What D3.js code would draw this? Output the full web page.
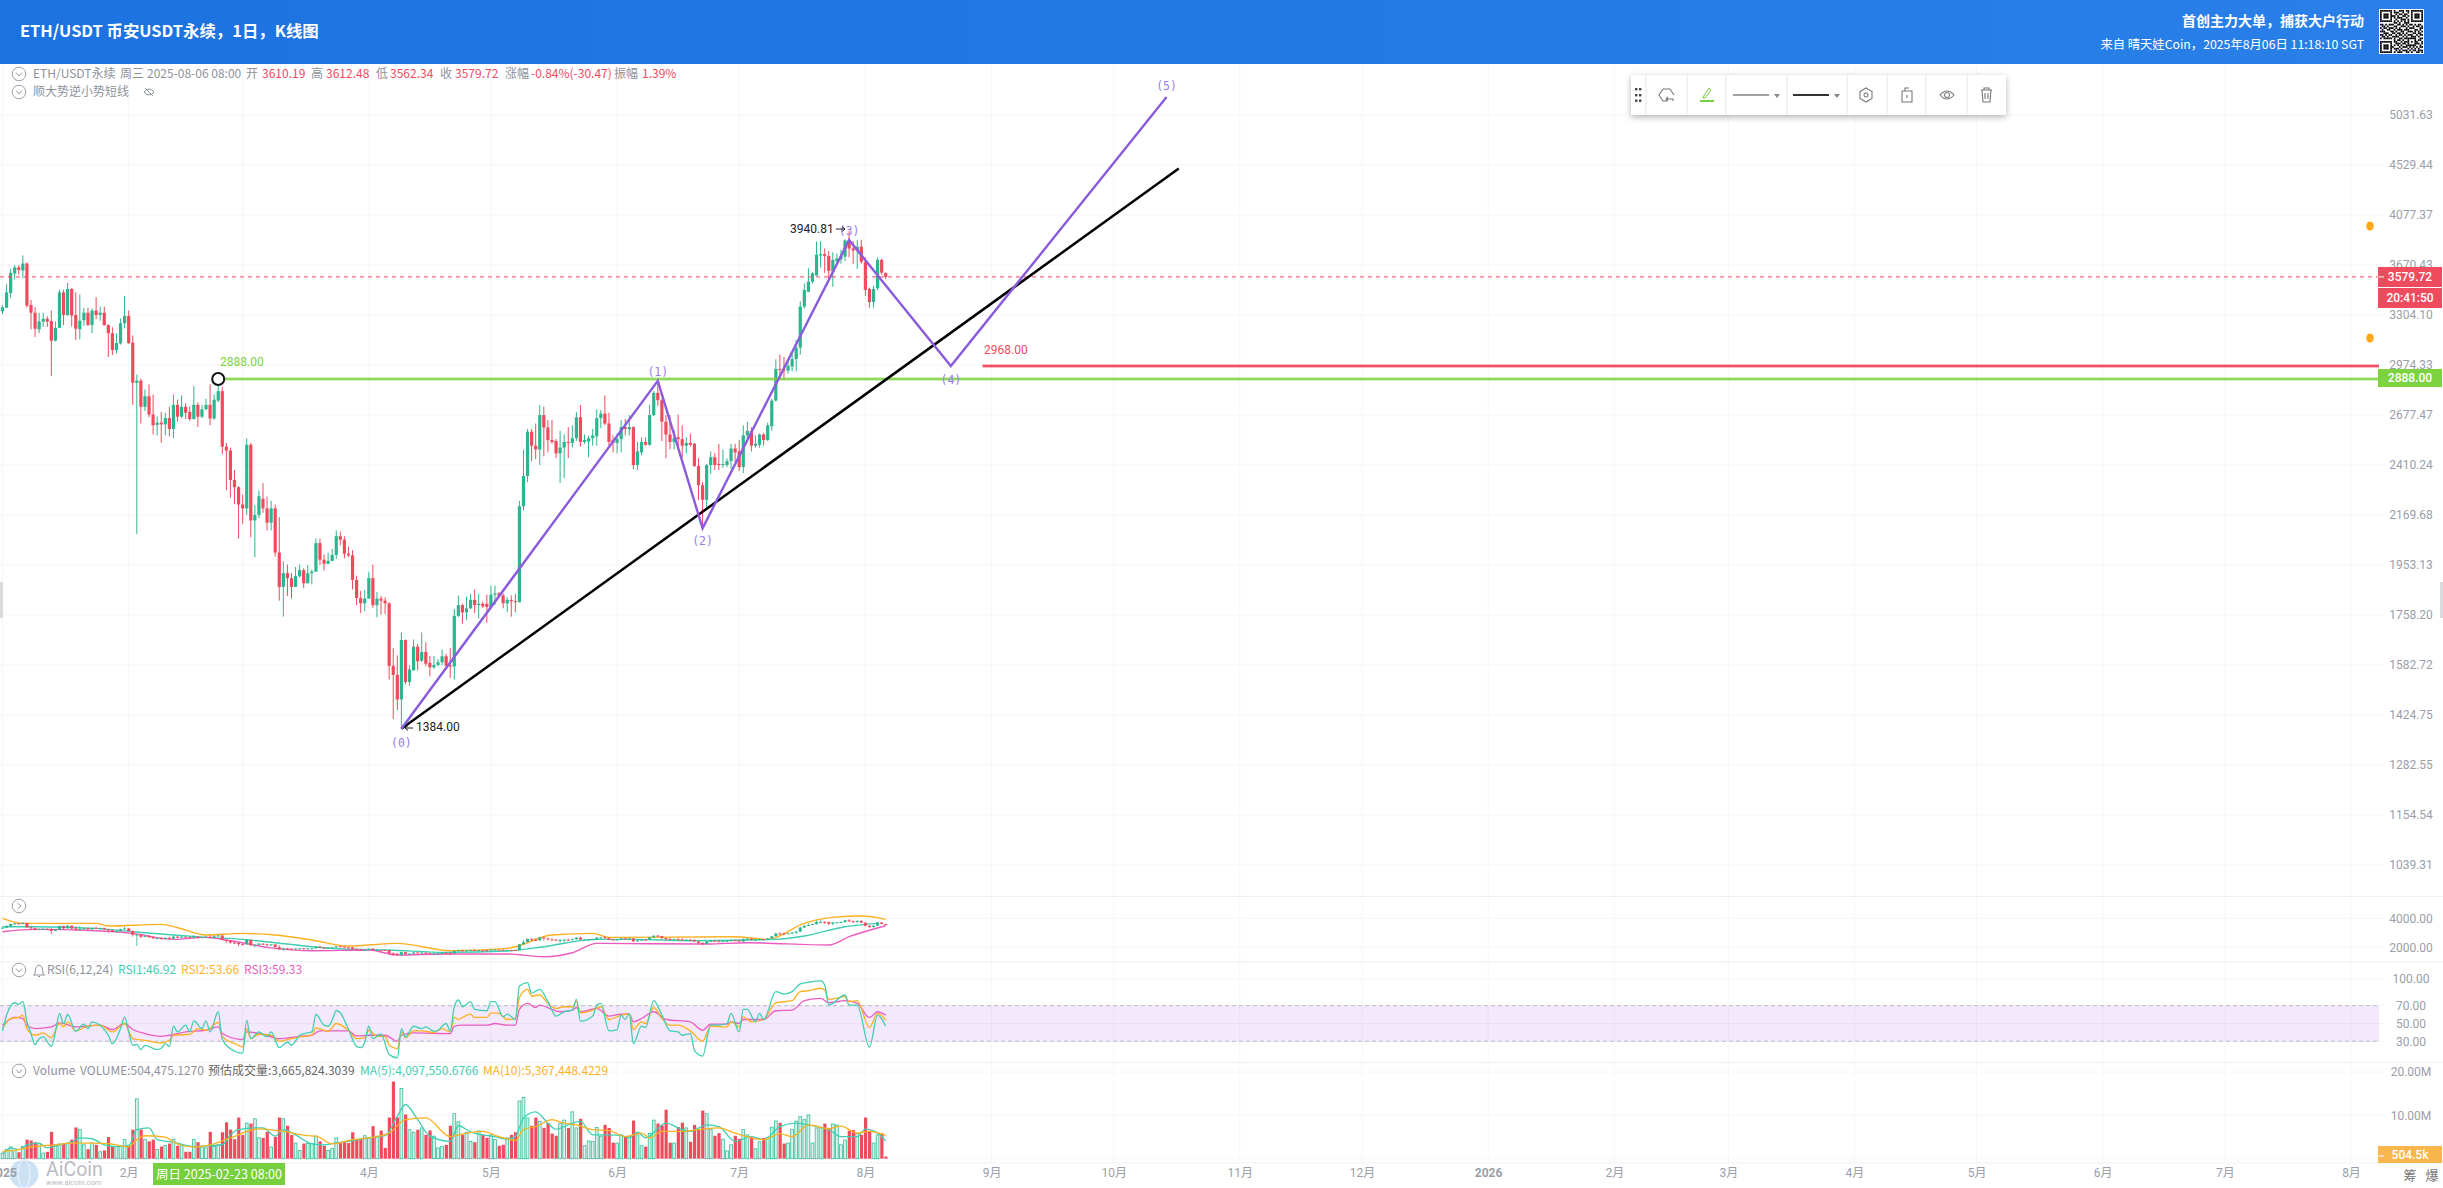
<!DOCTYPE html>
<html>
<head>
<meta charset="utf-8">
<title>ETH/USDT K线图</title>
<script src="https://cdn.jsdelivr.net/npm/d3@7/dist/d3.min.js"></script>
<style>
  html, body { margin: 0; padding: 0; background: #fff; overflow: hidden; }
  svg { display: block; }
  text { font-family: Roboto, "Noto Sans CJK SC", sans-serif; }
  .cn { font-family: "Noto Sans CJK SC", Roboto, sans-serif; }
</style>
</head>
<body>
<div id="chart"></div>
<script>
// K线数据, 从图上读出来的, 第 0 天 = 2025-01-01
const opens = [3330,3355,3460,3605,3652,3628,3682,3375,3320,3205,
  3258,3278,3262,3130,3216,3465,3304,3490,3304,3207,
  3268,3320,3235,3335,3305,3320,3235,3180,3070,3112,
  3247,3298,3118,2865,2878,2724,2785,2680,2622,2635,
  2625,2660,2600,2735,2668,2724,2695,2655,2735,2668,
  2710,2735,2658,2760,2815,2505,2485,2335,2300,2218,
  2200,2515,2145,2170,2245,2200,2135,2200,2005,1865,
  1920,1900,1865,1908,1932,1880,1920,1926,2045,1975,
  1958,1970,1995,2075,2060,2000,1993,1893,1822,1802,
  1820,1900,1795,1820,1812,1802,1580,1550,1472,1668,
  1527,1565,1645,1597,1627,1590,1575,1583,1592,1612,
  1582,1578,1755,1795,1768,1783,1815,1795,1800,1800,
  1788,1835,1840,1832,1802,1815,1810,1806,2210,2355,
  2585,2510,2490,2677,2608,2540,2535,2470,2500,2530,
  2525,2550,2665,2530,2532,2550,2560,2660,2685,2630,
  2540,2525,2545,2610,2598,2610,2410,2475,2530,2515,
  2677,2805,2762,2640,2570,2530,2555,2545,2510,2525,
  2520,2405,2310,2240,2410,2450,2415,2410,2410,2430,
  2495,2480,2400,2565,2590,2510,2515,2570,2540,2615,
  2760,2950,2945,2940,2965,3012,3085,3363,3470,3544,
  3590,3745,3755,3740,3620,3700,3715,3735,3865,3800,
  3785,3815,3695,3490,3395,3495,3710,3610.19];
const closes = [3358,3465,3610,3652,3632,3682,3370,3320,3210,3260,
  3278,3258,3130,3216,3465,3304,3490,3300,3210,3265,
  3320,3235,3335,3304,3320,3235,3180,3070,3115,3247,
  3298,3115,2865,2878,2724,2785,2680,2620,2635,2625,
  2660,2600,2735,2668,2724,2690,2655,2735,2668,2710,
  2735,2658,2765,2815,2505,2485,2335,2300,2218,2200,
  2515,2145,2170,2257,2200,2135,2200,2005,1865,1920,
  1900,1865,1908,1932,1880,1920,1926,2045,1975,1958,
  1970,1995,2075,2060,2000,1993,1893,1822,1802,1820,
  1900,1795,1820,1812,1802,1580,1550,1472,1668,1527,
  1568,1645,1595,1627,1587,1575,1583,1592,1612,1580,
  1578,1755,1795,1768,1783,1815,1795,1800,1790,1788,
  1835,1840,1830,1802,1815,1810,1806,2210,2355,2585,
  2510,2490,2677,2608,2540,2530,2470,2500,2530,2525,
  2550,2665,2530,2540,2550,2565,2660,2685,2630,2530,
  2525,2545,2610,2600,2610,2410,2480,2530,2515,2677,
  2805,2762,2640,2570,2530,2550,2545,2510,2525,2515,
  2405,2310,2240,2410,2450,2410,2410,2415,2430,2495,
  2475,2400,2565,2590,2510,2520,2570,2540,2620,2760,
  2950,2945,2940,2970,3012,3085,3363,3483,3544,3607,
  3750,3755,3740,3625,3710,3720,3740,3865,3800,3785,
  3815,3695,3483,3395,3490,3710,3612,3579.72];
const highs = [3375,3525,3640,3670,3670,3745,3690,3410,3360,3320,
  3320,3295,3335,3260,3485,3485,3535,3495,3465,3450,
  3355,3355,3350,3430,3363,3363,3240,3220,3180,3280,
  3440,3335,3165,2915,2890,2825,2855,2795,2670,2695,
  2690,2725,2795,2765,2790,2745,2725,2845,2750,2735,
  2770,2855,2795,2855,2840,2525,2500,2385,2305,2265,
  2550,2525,2215,2285,2320,2255,2235,2218,2160,1968,
  1955,1920,1945,1955,1940,1953,1935,2065,2065,1997,
  2005,2020,2100,2095,2075,2030,2015,1910,1850,1853,
  1925,1955,1845,1830,1825,1806,1640,1615,1695,1670,
  1582,1670,1655,1695,1660,1613,1613,1602,1635,1620,
  1640,1780,1832,1800,1827,1838,1855,1838,1808,1835,
  1870,1870,1845,1840,1825,1832,1838,2235,2490,2600,
  2600,2630,2735,2725,2650,2650,2545,2590,2570,2610,
  2620,2695,2735,2570,2565,2600,2710,2705,2790,2690,
  2565,2575,2650,2655,2677,2615,2530,2555,2555,2735,
  2815,2860,2770,2677,2677,2595,2680,2620,2555,2575,
  2525,2445,2325,2415,2480,2470,2520,2490,2445,2520,
  2520,2540,2620,2640,2610,2565,2575,2578,2635,2770,
  3010,3040,3025,3000,3060,3135,3400,3530,3645,3615,
  3855,3860,3800,3780,3770,3760,3790,3875,3941,3860,
  3870,3870,3730,3500,3515,3730,3720,3612.48];
const lows = [3310,3355,3425,3560,3595,3570,3355,3205,3155,3180,
  3222,3222,2905,3125,3216,3235,3298,3225,3135,3140,
  3230,3230,3180,3275,3265,3230,3025,3037,3048,3105,
  3212,3108,2735,2085,2630,2700,2665,2570,2565,2525,
  2565,2560,2550,2640,2660,2655,2645,2652,2610,2660,
  2705,2620,2650,2750,2465,2285,2250,2220,2065,2130,
  2170,2070,1985,2155,2180,2100,2100,1988,1812,1752,
  1830,1820,1865,1902,1860,1878,1875,1925,1953,1930,
  1958,1970,1978,2035,1980,1985,1855,1795,1765,1772,
  1820,1785,1750,1760,1762,1535,1413,1440,1384,1520,
  1515,1565,1565,1592,1578,1545,1570,1578,1582,1575,
  1540,1535,1750,1726,1740,1780,1765,1745,1785,1730,
  1783,1795,1825,1783,1768,1752,1768,1806,2190,2325,
  2430,2440,2410,2455,2475,2520,2445,2320,2345,2445,
  2500,2535,2505,2520,2450,2510,2510,2605,2620,2510,
  2475,2470,2475,2565,2565,2390,2385,2460,2510,2510,
  2670,2730,2535,2445,2490,2490,2490,2450,2470,2505,
  2400,2240,2120,2205,2365,2385,2385,2395,2400,2390,
  2425,2380,2370,2545,2480,2500,2500,2510,2535,2590,
  2755,2885,2880,2920,2935,2935,3040,3350,3465,3530,
  3590,3650,3610,3545,3505,3680,3680,3700,3730,3680,
  3640,3680,3440,3355,3355,3480,3595,3562.34];

// 成交量 (单位 M)
const volumes = [1.3,2.1,2.7,1.9,1.5,2.8,4.4,4.2,3.8,3.5,
  1.3,1.6,6.2,3.2,3.4,3.5,3.6,4.4,7.2,6.7,
  3.2,2.2,3.6,3.2,1.6,1.9,5,2.8,2.8,2.8,
  4.4,3.2,6.7,13.8,6.7,4.4,4,4.4,2.1,2.8,
  3,3.5,4.5,3,3,1.6,1.6,4.4,3.8,2.7,
  2.5,6.2,2.8,3.2,6.1,8.4,6.7,4.5,9.5,5.5,
  8.2,8.1,9.2,4.8,4.8,6.2,2.7,5,9.5,9.2,
  7.6,5.5,3.6,1.9,3.5,3.5,3.5,5.2,4,3,
  1.9,2.4,4.8,3.6,3.9,3.6,6.1,4.5,4.4,5.3,
  4.8,7.5,5.2,6.5,2.5,9.5,17.8,9.5,16.2,10.2,
  6.7,6.1,6.7,7.1,5.5,6.5,5.2,2.5,2.8,3.2,
  7.6,10.4,8.5,5.5,6.1,4,3.8,6.4,5.5,4.8,
  5.5,4.4,3,3.2,4.8,5.5,6.1,13.3,14.1,9.4,
  7.6,9.5,8.6,7.1,8.2,5.8,5.3,8.2,8.9,7.1,
  10.8,7.1,9.2,3,4.1,4,7.2,5.2,7.8,7.1,
  3.7,3.6,5.5,5.2,5.2,8.8,5.5,3,2.8,5.8,
  8.9,8.1,7.7,11.3,3.7,3.6,7.3,8.3,7.1,3.9,
  7.8,6.7,11.1,10.4,6.8,5.3,5.9,4.5,1.8,3.2,
  5.3,4.6,6.7,5.5,5,2.3,3.9,4.8,4.8,7.3,
  8.7,8.3,3.5,3.6,6.8,8.7,9.7,9,10.1,3.6,
  7.1,7.1,8.1,7.1,8,7.8,3.2,4.3,6.4,6.6,
  5.9,5.5,9.5,6.3,3.6,5.5,5.8,0.5];
const volMa5 = [[0,1],[2,2.5],[4,2.1],[6,3.2],[9,3.6],[11,2.5],[14,3.2],[17,3.8],[19,4.8],[22,4.6],[25,3.2],[28,2.8],[31,3],[33,6.7],[36,7.1],[38,4.4],[42,3.8],[47,2.8],[51,3],[54,3.2],[56,5.5],[58,6.7],[62,7.1],[64,7.1],[67,5.2],[69,6.7],[72,5.5],[76,3.4],[79,3.2],[81,3.5],[85,4],[90,4.8],[94,5.3],[97,9.8],[99,12.5],[102,9],[105,5.2],[110,4],[112,7.6],[115,6.2],[118,5.5],[121,5.1],[124,4.5],[126,5.1],[128,9.4],[131,10.8],[134,8.2],[136,6.8],[139,7.8],[142,8.6],[145,5.5],[149,5.5],[152,5.4],[154,4.8],[156,6.1],[158,4.8],[163,8.2],[167,6.7],[169,6.3],[173,7.8],[176,7.4],[180,4],[184,5.1],[187,4.4],[191,7.4],[195,8.2],[198,7.8],[203,6.7],[206,5.1],[210,5.1],[212,6.8],[215,5.9],[217,4.1]];
const volMa10 = [[0,1.7],[4,2.1],[7,2.7],[13,3.2],[17,3.6],[22,3.6],[26,3.5],[31,2.8],[33,4.4],[35,5.3],[40,5],[42,3.8],[47,2.7],[51,3.2],[56,4.8],[63,6.9],[69,6.3],[75,5.3],[77,5.2],[81,3.4],[86,4.4],[90,4.8],[95,5.9],[99,9],[104,9.4],[110,5.1],[113,5.7],[118,6.3],[122,5.1],[126,4.2],[128,6.7],[131,7.4],[135,9],[138,8.2],[141,7.8],[145,6.7],[149,6.5],[153,5.1],[157,5.9],[159,4.8],[162,6.3],[167,6.3],[171,6.7],[176,7.1],[180,5.9],[187,4.4],[191,5.8],[194,5.1],[198,7.8],[203,6.9],[206,7.5],[210,5.9],[213,6.3],[217,5.4]];

// RSI, [第几天, 数值]
const rsi1 = [[0,41.7],[1,59.4],[3,73.3],[4,71.4],[5,74.8],[6,51.9],[7,38.7],[8,26.2],[9,33],[10,34.9],[12,24.3],[13,40.5],[14,61.3],[15,50],[16,60.1],[18,41.3],[20,49.2],[21,44.3],[22,51.9],[24,48.1],[26,36.8],[27,27.3],[29,44.3],[30,57.5],[31,40.5],[32,25.5],[33,26.6],[34,20.6],[35,25.5],[38,20.6],[39,22.1],[40,27.3],[41,24.3],[42,46.9],[43,40.5],[45,48.1],[46,40.5],[47,53],[49,44.3],[50,53],[51,40.5],[53,63.2],[54,31.9],[56,21.7],[59,16.8],[60,53.7],[61,33],[63,40.5],[65,34.9],[66,40.5],[68,22.8],[70,29.2],[71,25.5],[73,36.8],[75,39.4],[76,40.5],[77,60.1],[79,48.1],[80,46.9],[81,53.7],[82,64.3],[83,62],[85,43.2],[87,24.3],[88,22.8],[89,29.2],[90,46.9],[91,33],[93,37.9],[95,15.3],[97,11.5],[98,44.3],[99,34.9],[101,46.9],[103,44.3],[104,46.2],[106,41.3],[107,42.4],[109,50],[110,41.7],
  [111,68.8],[112,76.4],[113,68.8],[115,74.5],[116,65.8],[119,64.3],[120,74.5],[121,74.5],[123,57.5],[124,60.5],[126,54.5],[127,92.2],[129,96],[130,83.9],[132,88.4],[134,74.5],[136,58.3],[138,63.2],[140,65],[141,77.1],[142,52.6],[145,58.3],[146,70.7],[147,72.6],[149,41.7],[151,43.2],[152,59.4],[153,54.5],[154,61.3],[155,27.3],[157,47],[158,45.4],[160,75.6],[162,59.4],[164,41.7],[166,40.5],[167,36.8],[169,38.7],[170,19.8],[172,13.4],[174,48.1],[176,48.1],[178,50],[179,61.3],[181,40.5],[182,65.8],[183,65.8],[185,51.9],[186,61.3],[187,54.5],[190,85.8],[192,83.1],[194,85.8],[196,94.5],[198,96.3],[201,97.8],[202,93.3],[203,70.7],[207,82],[208,70.7],[210,70.7],[213,23.6],[215,59.4],[217,46.92]];
const rsi2 = [[0,44.3],[2,55.6],[4,56.8],[5,59.4],[6,44.3],[8,36.8],[10,39.4],[12,34.1],[14,50],[15,46.2],[16,51.9],[18,41.7],[21,47],[24,48.1],[27,40.5],[30,50],[32,33],[35,31.1],[39,28.1],[41,31.1],[42,36.8],[46,37.9],[48,44.3],[50,42.4],[53,51.1],[54,35.6],[58,25.5],[59,23.6],[60,44.3],[61,33],[63,37.9],[66,36.8],[68,30],[70,31.9],[73,34.9],[76,36.8],[77,45],[80,41.3],[82,50],[85,42.4],[87,33],[89,34.1],[90,42.4],[92,35.6],[94,35.6],[95,25.5],[97,21.7],[98,40.5],[99,34.1],[101,41.7],[103,41.7],[106,39.8],[108,44.3],[110,40.5],
  [111,56.8],[112,54.5],[113,56.8],[115,60.5],[116,56.8],[119,56.8],[120,62],[122,61.3],[124,54.5],[126,55.6],[127,79.4],[129,88.4],[130,80.9],[132,82],[134,72.6],[136,66.9],[138,68.8],[140,68.8],[141,74.5],[142,62],[145,65],[147,68.8],[149,54.5],[152,59.4],[154,60.5],[155,43.2],[157,51.9],[158,50],[160,68],[162,55.6],[164,48.1],[166,48.1],[169,41.7],[172,30],[174,46.9],[178,46.2],[179,51.9],[181,46.2],[182,57.5],[184,51.9],[187,54.5],[190,73.3],[194,75.6],[196,85.8],[198,86.9],[201,89.6],[202,87.7],[203,77.1],[207,80.1],[208,74.5],[210,75.6],[213,45.4],[215,61.3],[217,53.66]];
const rsi3 = [[0,48],[3,56.8],[5,55.6],[6,48.1],[8,44.3],[12,46.2],[14,50.7],[18,46.2],[24,48.1],[27,43.2],[30,50],[32,43.2],[35,38.7],[39,35.6],[41,36.8],[45,40.5],[50,42.4],[53,46.2],[54,38.7],[59,31.9],[60,40.5],[64,37.9],[68,33],[73,35.6],[76,36.8],[78,41.7],[82,41.7],[85,41.7],[87,36],[90,36.8],[94,36.8],[97,30],[98,36.8],[101,39.4],[110,38.7],
  [111,46.9],[113,48.1],[119,48.1],[121,50],[124,48.1],[126,48.1],[127,65.8],[129,72.6],[131,68],[132,70.7],[135,65.8],[137,63.2],[140,65],[141,68],[142,63.2],[146,66.9],[149,58.3],[152,60.5],[154,60.5],[155,51.9],[157,55.6],[160,63.2],[163,54.5],[169,51.9],[172,42.4],[174,49.2],[178,49.2],[179,51.9],[181,50],[182,54.5],[187,54.5],[190,64.3],[194,65],[197,75.6],[201,78.2],[203,73.3],[207,75.6],[210,72.6],[213,56.8],[215,63.2],[217,59.33]];

// 小窗口里的通道线
const bandUpper = [[0,3996],[5,3651],[23,3651],[26,3467],[39,3582],[43,3352],[50,2846],[59,2961],[67,2846],[76,2501],[85,2087],[97,2271],[110,1765],[124,1926],[126,2041],[135,2846],[145,2961],[149,2685],[180,2731],[188,2547],[197,3651],[204,4065],[211,4157],[217,3927]];
const bandMiddle = [[0,3421],[8,3421],[23,3306],[32,3076],[42,2846],[50,2685],[59,2547],[67,2317],[76,2041],[84,1880],[95,1811],[109,1650],[124,1742],[133,2041],[146,2547],[155,2547],[169,2455],[183,2501],[190,2547],[197,2777],[207,3421],[215,3651]];
const bandLower = [[0,3076],[8,3237],[23,3145],[32,2961],[42,2547],[50,2685],[56,2455],[67,1926],[76,1765],[90,1811],[97,1466],[109,1535],[124,1535],[133,1351],[140,1627],[146,2271],[173,2225],[183,2317],[203,2156],[208,2731],[217,3490]];

// 波浪和趋势线
const waveDays = [98,161,172,208,233,286];
const wavePrices = [1384,2877,2110,3868,2968,5226];
const waveLabels = ["(0)","(1)","(2)","(3)","(4)","(5)"];
const trendDays = [98,289];
const trendPrices = [1384,4496];

const priceTicks = [5031.63,4529.44,4077.37,3670.43,3304.10,2974.33,2677.47,2410.24,2169.68,1953.13,1758.20,1582.72,1424.75,1282.55,1154.54,1039.31];
const bandTicks = [4000,2000];
const rsiTicks = [100,70,50,30];
const volTicks = [20,10];
const monthDays = [0,31,59,90,120,151,181,212,243,273,304,334,365,396,424,455,485,516,546,577];
const monthLabels = ["2025","2月","","4月","5月","6月","7月","8月","9月","10月","11月","12月","2026","2月","3月","4月","5月","6月","7月","8月"];

const lastPrice = 3579.72, greenLevel = 2888, redLevel = 2968;
const greenStartDay = 53, redStartDay = 240.8;

const width = 2443, height = 1188;
const plotRight = 2379;
const RED = "#f04a5d", GREEN = "#2db58f", TEAL = "#3fcfb2", ORANGE = "#ffb01f", PINK = "#ec5cc0";
const LIME = "#7cd33f", PURPLE = "#8a5bdc", GREY = "#9a9ea8", GRID = "#f5f6f8", LINEC = "#eff0f3";

const svg = d3.select("#chart").append("svg").attr("width", width).attr("height", height);

const x = d3.scaleLinear().domain([0, 577]).range([2.5, 2351]);
const y = d3.scaleLog().domain([5031.63, 1039.31]).range([115, 865]);
const yBand = d3.scaleLinear().domain([4000, 2000]).range([918.3, 947.3]);
const yRsi = d3.scaleLinear().domain([100, 30]).range([979, 1041.3]);
const yVol = d3.scaleLinear().domain([20, 0]).range([1072, 1158.7]);

const candles = opens.map((o, i) => ({ i, o, c: closes[i], h: highs[i], l: lows[i], v: volumes[i], up: closes[i] >= o }));

// 背景网格
const gridG = svg.append("g");
gridG.selectAll("line.v").data(monthDays).enter().append("line")
  .attr("x1", d => x(d)).attr("x2", d => x(d)).attr("y1", 64).attr("y2", 1163)
  .attr("stroke", GRID);
const hLines = [...priceTicks.map(d => y(d)), ...bandTicks.map(d => yBand(d)), ...rsiTicks.map(d => yRsi(d)), ...volTicks.map(d => yVol(d)), yVol(0)];
gridG.selectAll("line.h").data(hLines).enter().append("line")
  .attr("x1", 0).attr("x2", 2385).attr("y1", d => d).attr("y2", d => d)
  .attr("stroke", GRID);
gridG.selectAll("line.sep").data([896.5, 961.7, 1062.7, 1163]).enter().append("line")
  .attr("x1", 0).attr("x2", width).attr("y1", d => d).attr("y2", d => d)
  .attr("stroke", LINEC);

// 主图K线
function drawCandles(g, yScale, bodyW, wickW) {
  g.selectAll("line").data(candles).enter().append("line")
    .attr("x1", d => x(d.i)).attr("x2", d => x(d.i))
    .attr("y1", d => yScale(d.h)).attr("y2", d => yScale(d.l))
    .attr("stroke", d => d.up ? GREEN : RED).attr("stroke-width", wickW);
  g.selectAll("rect").data(candles).enter().append("rect")
    .attr("x", d => x(d.i) - bodyW / 2).attr("width", bodyW)
    .attr("y", d => Math.min(yScale(d.o), yScale(d.c)))
    .attr("height", d => Math.max(1, Math.abs(yScale(d.o) - yScale(d.c))))
    .attr("fill", d => d.up ? GREEN : RED);
}
drawCandles(svg.append("g"), y, 3.2, 1);

// 现价虚线
svg.append("line").attr("x1", 0).attr("x2", plotRight).attr("y1", y(lastPrice)).attr("y2", y(lastPrice))
  .attr("stroke", RED).attr("stroke-dasharray", "4 4");

// 水平线
function level(price, startDay, color) {
  [[3.4, 0.45], [1.6, 1]].forEach(([w, op]) => {
    svg.append("line").attr("x1", x(startDay)).attr("x2", plotRight)
      .attr("y1", y(price)).attr("y2", y(price))
      .attr("stroke", color).attr("stroke-width", w).attr("stroke-opacity", op);
  });
}
level(greenLevel, greenStartDay, LIME);
level(redLevel, redStartDay, "#f0364c");

svg.append("text").attr("x", 220).attr("y", 366).attr("font-size", 12).attr("fill", LIME).text("2888.00");
svg.append("text").attr("x", 984).attr("y", 354).attr("font-size", 12).attr("fill", RED).text("2968.00");
svg.append("circle").attr("cx", x(greenStartDay)).attr("cy", y(greenLevel)).attr("r", 6)
  .attr("fill", "#fff").attr("stroke", "#111").attr("stroke-width", 2);

// 趋势线和波浪
const toPath = d3.line().x(d => x(d[0])).y(d => y(d[1]));
svg.append("path").attr("d", toPath(d3.zip(trendDays, trendPrices)))
  .attr("fill", "none").attr("stroke", "#000").attr("stroke-width", 2.5);
svg.append("path").attr("d", toPath(d3.zip(waveDays, wavePrices)))
  .attr("fill", "none").attr("stroke", PURPLE).attr("stroke-width", 2.4);

const waveDy = [14, -9, 13, -9, 14, -11];
svg.selectAll("text.wave").data(waveLabels).enter().append("text")
  .attr("x", (d, i) => x(waveDays[i])).attr("y", (d, i) => y(wavePrices[i]) + waveDy[i] + 4)
  .attr("text-anchor", "middle").attr("font-size", 11.5).attr("fill", "#9a7ee6")
  .style("font-family", "'DejaVu Sans Mono', monospace").text(d => d);

// 最高最低点标注, 小箭头单独画
svg.append("text").attr("x", 790).attr("y", 233).attr("font-size", 12).attr("fill", "#222").text("3940.81");
svg.append("path").attr("d", "M836,229 L845,229 M842,226.5 L845,229 L842,231.5").attr("fill", "none").attr("stroke", "#222");
svg.append("text").attr("x", 416).attr("y", 731).attr("font-size", 12).attr("fill", "#222").text("1384.00");
svg.append("path").attr("d", "M413,728 L405,728 M408,725.5 L405,728 L408,730.5").attr("fill", "none").attr("stroke", "#222");

// 通道小窗口
const bandG = svg.append("g");
const pairLine = yScale => d3.line().x(d => x(d[0])).y(d => yScale(d[1])).curve(d3.curveMonotoneX);
[[bandUpper, ORANGE], [bandMiddle, TEAL], [bandLower, PINK]].forEach(([data, color]) => {
  bandG.append("path").attr("d", pairLine(yBand)(data)).attr("fill", "none").attr("stroke", color).attr("stroke-width", 1.4);
});
drawCandles(bandG.append("g"), yBand, 3, 0.8);

// RSI
svg.append("rect").attr("x", 0).attr("width", plotRight).attr("y", yRsi(70)).attr("height", yRsi(30) - yRsi(70))
  .attr("fill", "#a64dea").attr("fill-opacity", 0.13);
[70, 30].forEach(v => {
  svg.append("line").attr("x1", 0).attr("x2", plotRight).attr("y1", yRsi(v)).attr("y2", yRsi(v))
    .attr("stroke", "#bdbdc4").attr("stroke-dasharray", "4 3");
});
[[rsi3, PINK], [rsi2, ORANGE], [rsi1, TEAL]].forEach(([data, color]) => {
  svg.append("path").attr("d", pairLine(yRsi)(data)).attr("fill", "none").attr("stroke", color).attr("stroke-width", 1.3);
});

// 成交量
svg.append("g").selectAll("rect").data(candles).enter().append("rect")
  .attr("x", d => x(d.i) - 1.4).attr("width", d => d.up ? 2.8 : 3.2)
  .attr("y", d => yVol(d.v)).attr("height", d => yVol(0) - yVol(d.v))
  .attr("fill", d => d.up ? "#2db58f" : RED).attr("fill-opacity", d => d.up ? 0.18 : 1)
  .attr("stroke", d => d.up ? "#34bd97" : "none").attr("stroke-width", 0.8);
[[volMa5, TEAL], [volMa10, ORANGE]].forEach(([data, color]) => {
  svg.append("path").attr("d", pairLine(yVol)(data)).attr("fill", "none").attr("stroke", color).attr("stroke-width", 1.3);
});

// 坐标轴
function rightAxis(scale, ticks, fmt) {
  const g = svg.append("g").attr("transform", `translate(${plotRight},0)`)
    .call(d3.axisRight(scale).tickValues(ticks).tickFormat(fmt).tickSize(0));
  g.select(".domain").remove();
  g.selectAll("text").attr("x", 32).attr("text-anchor", "middle").attr("font-size", 12).attr("fill", GREY)
    .style("font-family", "Roboto, sans-serif");
}
rightAxis(y, priceTicks, d3.format(".2f"));
rightAxis(yBand, bandTicks, d3.format(".2f"));
rightAxis(yRsi, rsiTicks, d3.format(".2f"));
rightAxis(yVol, volTicks, d => d3.format(".2f")(d) + "M");

// 水印放在 x 轴文字下面
svg.append("ellipse").attr("cx", 24).attr("cy", 1174).attr("rx", 14.5).attr("ry", 14).attr("fill", "#5b9bdc").attr("fill-opacity", 0.3);
svg.append("ellipse").attr("cx", 24).attr("cy", 1174).attr("rx", 6).attr("ry", 14).attr("fill", "none").attr("stroke", "#fff").attr("stroke-opacity", 0.7);
svg.append("text").attr("x", 46).attr("y", 1176).attr("font-size", 19.5).attr("fill", "#b9bcc4").text("AiCoin");
svg.append("text").attr("x", 46).attr("y", 1185).attr("font-size", 7.5).attr("fill", "#b9bcc4").text("www.aicoin.com");

const xAxisG = svg.append("g").attr("transform", "translate(0,1163)")
  .call(d3.axisBottom(x).tickValues(monthDays).tickFormat((d, i) => monthLabels[i]).tickSize(0).tickPadding(5));
xAxisG.select(".domain").remove();
xAxisG.selectAll("text").attr("font-size", 12).attr("fill", GREY)
  .attr("font-weight", (d, i) => monthLabels[i].length === 4 ? "bold" : "normal")
  .style("font-family", "Roboto, 'Noto Sans CJK SC', sans-serif");

// 右边价格标签
function tag(y0, h, color, label) {
  svg.append("rect").attr("x", 2378).attr("y", y0).attr("width", 64).attr("height", h).attr("fill", color);
  svg.append("text").attr("x", 2410).attr("y", y0 + h / 2 + 4.3).attr("text-anchor", "middle")
    .attr("font-size", 12).attr("font-weight", 500).attr("fill", "#fff").text(label);
}
tag(267, 20, "#ef4b5e", "3579.72");
tag(288, 20, "#ef4b5e", "20:41:50");
tag(369, 18, "#7cd33f", "2888.00");
tag(1146, 17, "#f9b64d", "504.5k");
svg.append("line").attr("x1", 2378).attr("x2", 2384).attr("y1", y(lastPrice)).attr("y2", y(lastPrice)).attr("stroke", "#fff");
svg.append("line").attr("x1", 2378).attr("x2", 2384).attr("y1", 1156).attr("y2", 1156).attr("stroke", "#fff");

// 提醒小铃铛
[226, 338].forEach(cy => {
  svg.append("ellipse").attr("cx", 2370).attr("cy", cy).attr("rx", 3.8).attr("ry", 4.5).attr("fill", "#ffa91a");
});

// 顶部横条
const defs = svg.append("defs");
const grad = defs.append("linearGradient").attr("id", "head");
grad.append("stop").attr("offset", "0%").attr("stop-color", "#1c72e0");
grad.append("stop").attr("offset", "100%").attr("stop-color", "#2a80e8");
const shadow = defs.append("filter").attr("id", "shadow").attr("x", "-5%").attr("y", "-20%").attr("width", "110%").attr("height", "150%");
shadow.append("feDropShadow").attr("dx", 0).attr("dy", 2).attr("stdDeviation", 3).attr("flood-color", "#000").attr("flood-opacity", 0.3);

svg.append("rect").attr("width", width).attr("height", 64).attr("fill", "url(#head)");
svg.append("text").attr("class", "cn").attr("x", 20).attr("y", 37).attr("font-size", 16.4).attr("font-weight", 700)
  .attr("fill", "#fff").text("ETH/USDT 币安USDT永续，1日，K线图");
svg.append("text").attr("class", "cn").attr("x", 2364).attr("y", 26).attr("text-anchor", "end").attr("font-size", 14)
  .attr("font-weight", 700).attr("fill", "#fff").text("首创主力大单，捕获大户行动");
svg.append("text").attr("class", "cn").attr("x", 2364).attr("y", 49).attr("text-anchor", "end").attr("font-size", 12.3)
  .attr("fill", "#fff").text("来自 晴天娃Coin，2025年8月06日 11:18:10 SGT");

// 二维码
const qrRows = [
  "1111111010011101101111111",
  "1000001011100100101000001",
  "1011101001011011001011101",
  "1011101110100110101011101",
  "1011101010111001001011101",
  "1000001001001110101000001",
  "1111111010101010101111111",
  "0000000011010011100000000",
  "1101011100110101011010110",
  "0110100011001110100101101",
  "1011011101010001011100011",
  "0100110010111011100011010",
  "1110001101001100111010101",
  "0011100110110101000110110",
  "1101011001011010111001011",
  "0110100111100101001110100",
  "1011111010011011111110011",
  "0000000010110100100010110",
  "1111111011001011101011001",
  "1000001001110110100011101",
  "1011101010101001111110010",
  "1011101100010111010101011",
  "1011101011101000101010100",
  "1000001001010111010110111",
  "1111111010111001101001101"
];
svg.append("rect").attr("x", 2379).attr("y", 9).attr("width", 45).attr("height", 45).attr("fill", "#fff");
const qrCell = 43 / 25;
qrRows.forEach((row, r) => {
  row.split("").forEach((c, k) => {
    if (c === "1") svg.append("rect").attr("x", 2380 + k * qrCell).attr("y", 10 + r * qrCell)
      .attr("width", qrCell).attr("height", qrCell).attr("fill", "#000");
  });
});

// 折叠小圆圈
function chevron(cx, cy, dir) {
  const g = svg.append("g").attr("transform", `translate(${cx},${cy})`);
  g.append("circle").attr("r", 6.8).attr("fill", "#fff").attr("stroke", "#9a9ea8");
  g.append("path").attr("d", dir === "down" ? "M-3,-1.5L0,2L3,-1.5" : "M-1.5,-3L2,0L-1.5,3")
    .attr("fill", "none").attr("stroke", "#9a9ea8");
}
chevron(19, 74, "down");
chevron(19, 92, "down");
chevron(19, 906, "right");
chevron(19, 970, "down");
chevron(19, 1071, "down");

// 图例文字
function legend(px, py, txt, color) {
  svg.append("text").attr("class", "cn").attr("x", px).attr("y", py).attr("font-size", 12).attr("fill", color).text(txt);
}
const G = "#8e929c";
[[33, "ETH/USDT永续", G], [120, "周三", G], [147, "2025-08-06 08:00", G], [246, "开", G], [262, "3610.19", RED],
 [311, "高", G], [326, "3612.48", RED], [376, "低", G], [390, "3562.34", RED], [440, "收", G], [455, "3579.72", RED],
 [505, "涨幅", G], [531, "-0.84%(-30.47)", RED], [614, "振幅", G], [642, "1.39%", RED]].forEach(([px, txt, color]) => {
  legend(px, 78, txt, color);
});
legend(33, 96, "顺大势逆小势短线", G);
svg.append("path").attr("d", "M144,92 Q149,86 154,92 Q149,98 144,92 M145,88 L153,96").attr("fill", "none").attr("stroke", G);
svg.append("path").attr("d", "M35,974 Q35,966 39,965 Q43,966 43,974 L44.5,975 L33.5,975 Z M38,976.5 L40,976.5").attr("fill", "none").attr("stroke", G);
legend(47, 974, "RSI(6,12,24)", G);
legend(118, 974, "RSI1:46.92", TEAL);
legend(181, 974, "RSI2:53.66", ORANGE);
legend(244, 974, "RSI3:59.33", PINK);
legend(33, 1075, "Volume", G);
legend(80, 1075, "VOLUME:504,475.1270", G);
legend(208, 1075, "预估成交量:3,665,824.3039", "#666");
legend(360, 1075, "MA(5):4,097,550.6766", TEAL);
legend(483, 1075, "MA(10):5,367,448.4229", ORANGE);

// 十字线日期标签
svg.append("rect").attr("x", 153).attr("y", 1163).attr("width", 132).attr("height", 22).attr("fill", "#76cf3c");
svg.append("text").attr("class", "cn").attr("x", 219).attr("y", 1178.5).attr("text-anchor", "middle").attr("font-size", 12.5)
  .attr("fill", "#fff").text("周日 2025-02-23 08:00");

svg.append("text").attr("class", "cn").attr("x", 2410).attr("y", 1180).attr("text-anchor", "middle").attr("font-size", 13).attr("fill", "#777").text("筹");
svg.append("text").attr("class", "cn").attr("x", 2432).attr("y", 1180).attr("text-anchor", "middle").attr("font-size", 13).attr("fill", "#777").text("爆");

// 画线工具条
const tool = svg.append("g");
tool.append("rect").attr("x", 1631).attr("y", 75).attr("width", 375).attr("height", 40).attr("fill", "#fff").attr("filter", "url(#shadow)");
[1646, 1687, 1726, 1787, 1847, 1887, 1926, 1967].forEach(px => {
  tool.append("line").attr("x1", px).attr("x2", px).attr("y1", 75).attr("y2", 115).attr("stroke", "#e4e5e8");
});
[[1636, 89], [1640, 89], [1636, 95], [1640, 95], [1636, 100.5], [1640, 100.5]].forEach(([cx, cy]) => {
  tool.append("rect").attr("x", cx - 1).attr("y", cy - 1).attr("width", 2.4).attr("height", 2.4).attr("fill", "#444");
});
const toolStroke = d => tool.append("path").attr("d", d).attr("fill", "none").attr("stroke", "#777").attr("stroke-width", 1.1);
toolStroke("M1663,89 L1670,89 L1674,95 M1663,89 L1659,95 L1663,101 L1667,101 M1668,97 L1666,99 L1668,101 M1667,99 L1673,99 L1673,101");
tool.append("path").attr("d", "M1703,97 L1709,88 L1711,90 L1705,98 L1703,98 Z").attr("fill", "none").attr("stroke", "#76cf3c");
tool.append("rect").attr("x", 1700).attr("y", 100).attr("width", 14).attr("height", 2).attr("fill", "#76cf3c");
tool.append("line").attr("x1", 1733).attr("x2", 1769).attr("y1", 95).attr("y2", 95).attr("stroke", "#444");
tool.append("path").attr("d", "M1774,94 L1780,94 L1777,98 Z").attr("fill", "#888");
tool.append("line").attr("x1", 1793).attr("x2", 1829).attr("y1", 95).attr("y2", 95).attr("stroke", "#333").attr("stroke-width", 2);
tool.append("path").attr("d", "M1834,94 L1840,94 L1837,98 Z").attr("fill", "#888");
toolStroke("M1866,88 L1872,91.5 L1872,98.5 L1866,102 L1860,98.5 L1860,91.5 Z M1866,93 A2,2 0 1 0 1866.01,93");
toolStroke("M1902,91 L1912,91 L1912,102 L1902,102 Z M1905,91 L1905,88 L1909,88 M1907,95 L1907,98");
toolStroke("M1940,95 Q1947,87 1954,95 Q1947,103 1940,95 Z M1947,92.5 A2.5,2.5 0 1 0 1947.01,92.5");
toolStroke("M1981,90 L1992,90 M1984,90 L1984,88 L1989,88 L1989,90 M1982,90 L1983,102 L1990,102 L1991,90 M1985,93 L1985,99 M1988,93 L1988,99");

// 左右两边的小把手
svg.append("rect").attr("x", 0).attr("y", 582).attr("width", 3).attr("height", 36).attr("fill", "#d9dade");
svg.append("rect").attr("x", 2440).attr("y", 582).attr("width", 3).attr("height", 36).attr("fill", "#d9dade");
</script>
</body>
</html>
